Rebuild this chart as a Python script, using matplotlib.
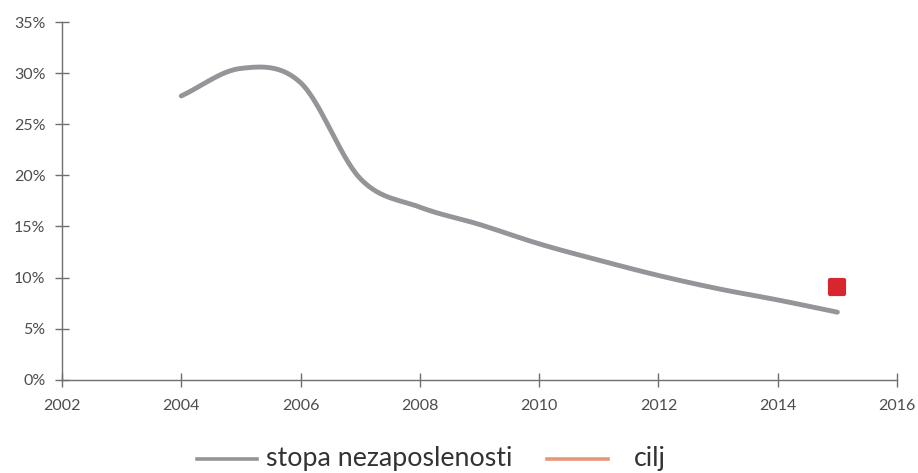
import matplotlib

matplotlib.use("Agg")
import matplotlib.pyplot as plt  # noqa: E402
import numpy as np  # noqa: E402
from matplotlib.lines import Line2D  # noqa: E402
from matplotlib.markers import MarkerStyle  # noqa: E402

# unemployment rate (percent)
years = [2004, 2005, 2006, 2007, 2008, 2009, 2010, 2011, 2012, 2013, 2014, 2015]
rate = [27.8, 30.5, 29.1, 19.7, 16.9, 15.2, 13.3, 11.7, 10.2, 8.9, 7.8, 6.6]
target_year = [2015]
target_rate = [9.1]

x_ticks = [2002, 2004, 2006, 2008, 2010, 2012, 2014, 2016]
y_ticks = [0, 5, 10, 15, 20, 25, 30, 35]
legend_labels = ["stopa nezaposlenosti", "cilj"]

GREY, RED, SALMON, AXIS, TXT = "#939598", "#d7262e", "#e8957a", "#6f6f6f", "#4d4d4d"
plt.rcParams["font.family"] = ["Lato", "DejaVu Sans"]


def smooth(x, y, n=30):
    """Catmull-Rom curve through the points, like a spreadsheet 'smoothed line'."""
    x = np.asarray(x, float)
    y = np.asarray(y, float)
    px = np.r_[2 * x[0] - x[1], x, 2 * x[-1] - x[-2]]
    py = np.r_[2 * y[0] - y[1], y, 2 * y[-1] - y[-2]]
    ox, oy = [], []
    t = np.linspace(0, 1, n, endpoint=False)
    for i in range(1, len(px) - 2):
        for p, o in ((px, ox), (py, oy)):
            p0, p1, p2, p3 = p[i - 1:i + 3]
            o.extend(0.5 * (2 * p1 + (-p0 + p2) * t + (2 * p0 - 5 * p1 + 4 * p2 - p3) * t ** 2
                            + (-p0 + 3 * p1 - 3 * p2 + p3) * t ** 3))
    ox.append(x[-1])
    oy.append(y[-1])
    return np.array(ox), np.array(oy)


W, H = 918, 473
fig = plt.figure(figsize=(W / 100, H / 100), dpi=100)
ax = fig.add_axes([62 / W, 1 - 379.5 / H, (897 - 62) / W, 357 / H])

sx, sy = smooth(years, rate)
ax.plot(sx, sy, color=GREY, lw=3.5, solid_capstyle="round", zorder=2)
ax.plot(target_year, target_rate, linestyle="none", marker=MarkerStyle("s", joinstyle="round"),
        color=RED, ms=10, mew=3, mec=RED, zorder=3)

ax.set_xlim(2002, 2016)
ax.set_ylim(0, 35)
ax.set_xticks(x_ticks)
ax.set_yticks(y_ticks)
ax.set_yticklabels([f"{v}%" for v in y_ticks])
for side in ("top", "right"):
    ax.spines[side].set_visible(False)
for side in ("left", "bottom"):
    ax.spines[side].set_color(AXIS)
    ax.spines[side].set_linewidth(1)
ax.tick_params(direction="inout", length=10, width=1, color=AXIS, labelcolor=TXT,
               labelsize=11.5, pad=7)
ax.tick_params(axis="x", pad=9)

# legend along the bottom edge
legend_items = [(197, 257, 266, GREY), (547, 608, 634, SALMON)]
for (x0, x1, xt, col), lab in zip(legend_items, legend_labels):
    fig.add_artist(Line2D([x0 / W, x1 / W], [1 - 459 / H] * 2, color=col, lw=2.6,
                          transform=fig.transFigure))
    fig.text(xt / W, 1 - 466 / H, lab, ha="left", va="baseline", fontsize=19.3,
             color="#333333")

fig.savefig("out.png", dpi=100)
